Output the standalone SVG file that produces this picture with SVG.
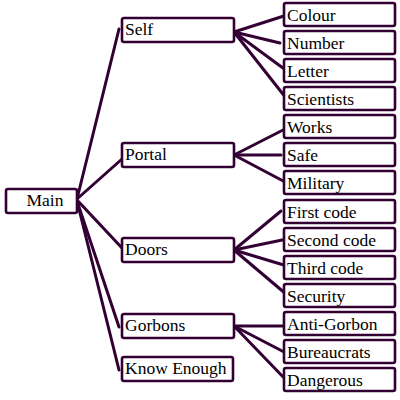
<svg xmlns="http://www.w3.org/2000/svg" width="400" height="400" viewBox="0 0 400 400">
<style>
rect{fill:#fff;stroke:#330033;stroke-width:2.6}
.c line{stroke:#330033;stroke-width:3;stroke-linecap:round}
</style>
<rect x="0" y="0" width="400" height="400" style="stroke:none"/>
<g class="c" id="connectors">
<line x1="77" y1="199" x2="119" y2="29"/>
<line x1="77" y1="199" x2="122" y2="159"/>
<line x1="77" y1="200" x2="122" y2="248"/>
<line x1="77" y1="201" x2="119" y2="327"/>
<line x1="77" y1="201" x2="119" y2="370"/>
<line x1="234" y1="32" x2="287" y2="15"/>
<line x1="234" y1="32" x2="280" y2="43"/>
<line x1="234" y1="32" x2="287" y2="71"/>
<line x1="234" y1="32" x2="286" y2="98"/>
<line x1="234" y1="155" x2="287" y2="128"/>
<line x1="234" y1="155" x2="281" y2="155"/>
<line x1="234" y1="155" x2="287" y2="183"/>
<line x1="234" y1="250" x2="281" y2="211"/>
<line x1="234" y1="250" x2="287" y2="239"/>
<line x1="234" y1="250" x2="287" y2="266"/>
<line x1="234" y1="250" x2="286" y2="294"/>
<line x1="234" y1="326" x2="287" y2="326"/>
<line x1="234" y1="326" x2="286" y2="353"/>
<line x1="234" y1="326" x2="287" y2="381"/>
</g>
<g font-family="Liberation Serif, serif" font-size="17.5" fill="#000">
<g id="main"><rect x="6" y="189" width="71" height="24" rx="2"/><text x="45" y="206" text-anchor="middle">Main</text></g>
<g id="self"><rect x="122" y="18" width="112" height="24" rx="2"/><text x="125" y="35">Self</text></g>
<g id="portal"><rect x="122" y="143" width="112" height="24" rx="2"/><text x="125" y="160">Portal</text></g>
<g id="doors"><rect x="122" y="238" width="112" height="24" rx="2"/><text x="125" y="255">Doors</text></g>
<g id="gorbons"><rect x="122" y="314" width="112" height="24" rx="2"/><text x="125" y="331">Gorbons</text></g>
<g id="know"><rect x="122" y="357" width="111" height="24" rx="2"/><text x="125" y="374">Know Enough</text></g>
<g id="colour"><rect x="284" y="3" width="111" height="23" rx="2"/><text x="287" y="21">Colour</text></g>
<g id="number"><rect x="284" y="31" width="111" height="23" rx="2"/><text x="287" y="49">Number</text></g>
<g id="letter"><rect x="284" y="59" width="111" height="23" rx="2"/><text x="287" y="77">Letter</text></g>
<g id="scientists"><rect x="284" y="87" width="111" height="23" rx="2"/><text x="287" y="105">Scientists</text></g>
<g id="works"><rect x="284" y="115" width="111" height="23" rx="2"/><text x="287" y="133">Works</text></g>
<g id="safe"><rect x="284" y="143" width="111" height="23" rx="2"/><text x="287" y="161">Safe</text></g>
<g id="military"><rect x="284" y="171" width="111" height="23" rx="2"/><text x="287" y="189">Military</text></g>
<g id="first"><rect x="284" y="200" width="111" height="23" rx="2"/><text x="287" y="218">First code</text></g>
<g id="second"><rect x="284" y="228" width="111" height="23" rx="2"/><text x="287" y="246">Second code</text></g>
<g id="third"><rect x="284" y="256" width="111" height="23" rx="2"/><text x="287" y="274">Third code</text></g>
<g id="security"><rect x="284" y="284" width="111" height="23" rx="2"/><text x="287" y="302">Security</text></g>
<g id="anti"><rect x="284" y="312" width="111" height="23" rx="2"/><text x="287" y="330">Anti-Gorbon</text></g>
<g id="bureaucrats"><rect x="284" y="340" width="111" height="23" rx="2"/><text x="287" y="358">Bureaucrats</text></g>
<g id="dangerous"><rect x="284" y="368" width="111" height="23" rx="2"/><text x="287" y="386">Dangerous</text></g>
</g>
</svg>
